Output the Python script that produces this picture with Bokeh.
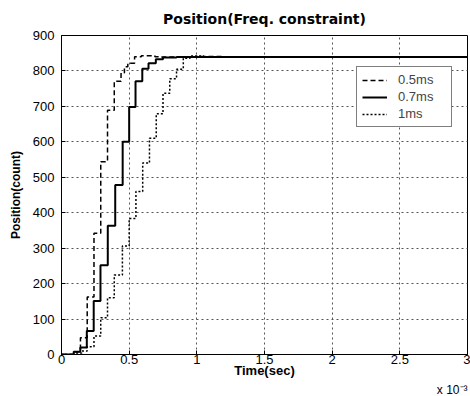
from bokeh.plotting import figure
from bokeh.models import FixedTicker, Title
from bokeh.embed import file_html
from bokeh.resources import INLINE

# ---- data (time in ms, i.e. x 10^-3 s) ----
t_05 = [0.0, 0.09, 0.14, 0.19, 0.24, 0.29, 0.34, 0.39, 0.44, 0.465, 0.49, 0.54, 0.59, 0.69, 0.74, 1.0, 1.2, 3.0]
v_05 = [0, 8, 47, 162, 342, 544, 689, 771, 795, 812, 822, 840, 843, 840, 839, 841, 839, 839]

t_07 = [0.0, 0.09, 0.139, 0.187, 0.238, 0.288, 0.342, 0.397, 0.452, 0.5, 0.547, 0.597, 0.643, 0.697, 0.75, 0.85, 3.0]
v_07 = [0, 8, 20, 66, 151, 252, 363, 478, 600, 698, 771, 806, 822, 833, 838, 839, 839]

t_1 = [0.0, 0.1, 0.15, 0.19, 0.24, 0.29, 0.34, 0.39, 0.45, 0.5, 0.55, 0.6, 0.65, 0.7, 0.75, 0.8, 0.85, 0.9, 0.95, 1.05, 3.0]
v_1 = [0, 4, 10, 22, 52, 104, 160, 224, 306, 384, 460, 540, 610, 679, 737, 778, 805, 836, 842, 839, 839]

x_ticks = [0, 0.5, 1, 1.5, 2, 2.5, 3]
x_tick_labels = ["0", "0.5", "1", "1.5", "2", "2.5", "3"]
y_ticks = [0, 100, 200, 300, 400, 500, 600, 700, 800, 900]

FONT = "Liberation Sans"

p = figure(width=470, height=396, x_range=(0, 3), y_range=(0, 900),
           min_border_left=61, min_border_right=3, min_border_top=34, min_border_bottom=42,
           toolbar_location=None, output_backend="svg")
p.background_fill_color = "white"
p.border_fill_color = "white"
p.outline_line_color = "black"
p.outline_line_width = 1

p.title.text = "Position(Freq. constraint)"
p.title.align = "center"
p.title.text_font = "DejaVu Sans"
p.title.text_font_size = "14px"
p.title.text_font_style = "bold"
p.title.text_color = "black"
p.title.standoff = 17
p.title.offset = 0

p.step(t_05, v_05, mode="after", line_color="black", line_width=1.5, line_dash="5 3", legend_label="0.5ms")
p.step(t_07, v_07, mode="after", line_color="black", line_width=2, legend_label="0.7ms")
p.step(t_1, v_1, mode="after", line_color="black", line_width=1.5, line_dash="2 2", legend_label="1ms")

p.xaxis.ticker = FixedTicker(ticks=x_ticks)
p.xaxis.major_label_overrides = {float(k): s for k, s in zip(x_ticks, x_tick_labels)}
p.yaxis.ticker = FixedTicker(ticks=y_ticks)

for ax in (p.xaxis[0], p.yaxis[0]):
    ax.axis_line_color = "black"
    ax.major_tick_in = 4
    ax.major_tick_out = 0
    ax.minor_tick_line_color = None
    ax.major_tick_line_color = "black"
    ax.major_label_text_font = FONT
    ax.major_label_text_font_size = "13px"
    ax.major_label_text_color = "black"
    ax.axis_label_text_font = FONT
    ax.axis_label_text_font_style = "bold"
    ax.axis_label_text_color = "black"

p.xaxis.axis_label = "Time(sec)"
p.yaxis.axis_label = "Position(count)"
p.xaxis.axis_label_text_font_size = "13px"
p.yaxis.axis_label_text_font_size = "12px"
p.xaxis.major_label_standoff = 0
p.xaxis.axis_label_standoff = -4
p.yaxis.major_label_standoff = 7
p.yaxis.axis_label_standoff = 7

for g in (p.xgrid[0], p.ygrid[0]):
    g.grid_line_color = "#555555"
    g.grid_line_dash = "2 3"
    g.grid_line_width = 1

lg = p.legend[0]
lg.location = (295, 227)
lg.border_line_color = "black"
lg.border_line_width = 1
lg.background_fill_color = "white"
lg.background_fill_alpha = 1
lg.label_text_font = FONT
lg.label_text_font_size = "13px"
lg.glyph_width = 25
lg.glyph_height = 14
lg.label_height = 14
lg.label_width = 48
lg.label_standoff = 11
lg.spacing = 2
lg.padding = 5
lg.margin = 0

p.add_layout(Title(text="x 10\u207b\u00b3", align="right", text_font=FONT, text_font_size="12px",
                   text_font_style="normal", text_color="black", standoff=0, offset=0), "below")

open("out.html", "w").write(file_html(p, INLINE))
